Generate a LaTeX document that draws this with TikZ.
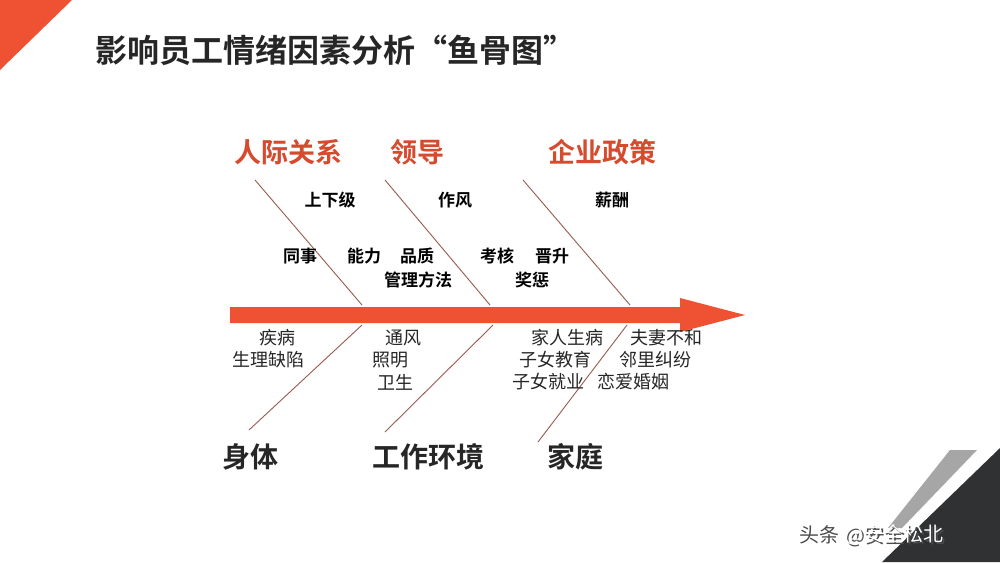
\documentclass[tikz,border=0pt]{standalone}
\usepackage{fontspec}
\newfontfamily\cjk{Noto Sans CJK SC}
\newfontfamily\cjkb{Noto Sans CJK SC Bold}
\definecolor{fred}{HTML}{EE5233}
\definecolor{bone}{HTML}{9A5A50}
\definecolor{dark}{HTML}{2F3133}
\begin{document}
\begin{tikzpicture}[x=1pt,y=-1pt,
  cat/.style={font=\cjkb\fontsize{27}{27}\selectfont, text=fred!90!black},
  sub/.style={font=\cjkb\fontsize{17}{17}\selectfont, text=black},
  low/.style={font=\cjk\fontsize{18}{18}\selectfont, text=black!85},
  bot/.style={font=\cjkb\fontsize{28}{28}\selectfont, text=black!85},
  bonel/.style={draw=bone, line width=0.9pt}]
\useasboundingbox (0,0) rectangle (1000,562);
\fill[white] (0,0) rectangle (1000,562);
\fill[fred] (0,0) -- (72,0) -- (0,70) -- cycle;
\fill[dark] (1000,448) -- (1000,562) -- (882,562) -- cycle;
\fill[black!35] (950,450) -- (977,450) -- (902,528) -- (888,528) -- cycle;
\node[anchor=west, font=\cjkb\fontsize{32}{32}\selectfont, text=black!85] (title) at (92,50) {影响员工情绪因素分析“鱼骨图”};
% spine
\fill[fred] (230,307) -- (680,307) -- (680,298) -- (745,315) -- (680,332) -- (680,323) -- (230,323) -- cycle;
% bones
\coordinate (t1a) at (255,180); \coordinate (t1b) at (362,305);
\coordinate (t2a) at (385,180); \coordinate (t2b) at (490,305);
\coordinate (t3a) at (523,180); \coordinate (t3b) at (630,305);
\coordinate (b1a) at (362,325); \coordinate (b1b) at (249,430);
\coordinate (b2a) at (493,325); \coordinate (b2b) at (385,432);
\coordinate (b3a) at (627,325); \coordinate (b3b) at (538,442);
\draw[bonel] (t1a) -- (t1b); \draw[bonel] (t2a) -- (t2b); \draw[bonel] (t3a) -- (t3b);
\draw[bonel] (b1a) -- (b1b); \draw[bonel] (b2a) -- (b2b); \draw[bonel] (b3a) -- (b3b);
% labels
\node[cat] (c1) at (288,152) {人际关系};
\node[cat] (c2) at (417,152) {领导};
\node[cat] (c3) at (602,152) {企业政策};
\node[sub] (u1) at (330,200) {上下级};
\node[sub] (u2) at (455,200) {作风};
\node[sub] (u3) at (612,200) {薪酬};
\node[sub] (u4) at (300,256) {同事};
\node[sub] (u5) at (364,256) {能力};
\node[sub] (u6) at (417,256) {品质};
\node[sub] (u7) at (418,280) {管理方法};
\node[sub] (u8) at (497,256) {考核};
\node[sub] (u9) at (552,256) {晋升};
\node[sub] (u10) at (532,280) {奖惩};
\node[low] (l1) at (277,338) {疾病};
\node[low] (l2) at (268,360) {生理缺陷};
\node[low] (l3) at (403,338) {通风};
\node[low] (l4) at (390,360) {照明};
\node[low] (l5) at (395,382) {卫生};
\node[low] (l6) at (567,338) {家人生病};
\node[low] (l7) at (555,360) {子女教育};
\node[low] (l8) at (548,382) {子女就业};
\node[low] (l9) at (666,338) {夫妻不和};
\node[low] (l10) at (655,360) {邻里纠纷};
\node[low] (l11) at (633,382) {恋爱婚姻};
\node[bot] (d1) at (250,457) {身体};
\node[bot] (d2) at (428,457) {工作环境};
\node[bot] (d3) at (575,457) {家庭};
% watermark
\node[anchor=west, font=\cjk\fontsize{20}{20}\selectfont, text=black!70] (w1) at (796,535) {头条};
\node[anchor=west, font=\cjk\fontsize{20}{20}\selectfont, text=black!70] at (842.8,536.8) {@安全松北};
\node[anchor=west, font=\cjk\fontsize{20}{20}\selectfont, text=white] (w2) at (841,535) {@安全松北};
\end{tikzpicture}
\end{document}
